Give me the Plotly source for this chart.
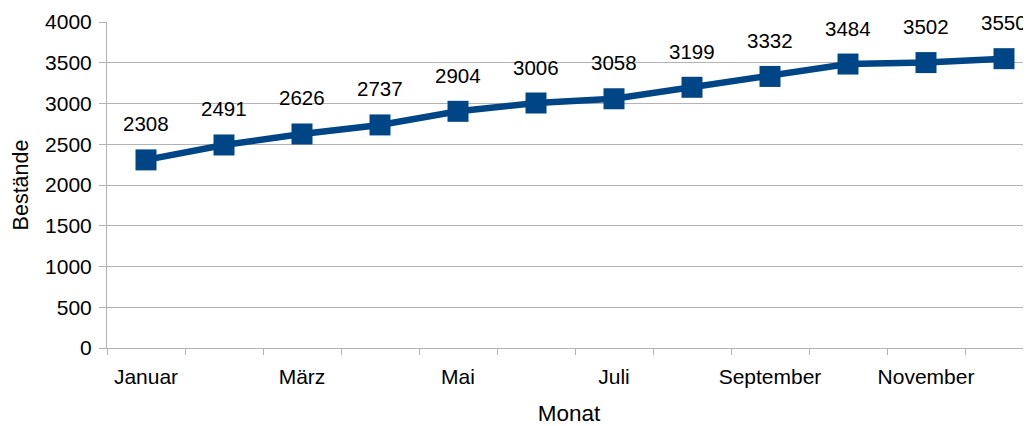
import plotly.graph_objects as go

months = ["Januar", "Februar", "März", "April", "Mai", "Juni", "Juli",
          "August", "September", "Oktober", "November", "Dezember"]
bestaende = [2308, 2491, 2626, 2737, 2904, 3006, 3058, 3199, 3332, 3484, 3502, 3550]

xs = list(range(len(months)))
blue = "#004586"
grid = "#b3b3b3"
font = "Liberation Sans, Arial, sans-serif"

fig = go.Figure()
fig.add_trace(go.Scatter(
    x=xs, y=bestaende, mode="lines+markers",
    line=dict(color=blue, width=6.5),
    marker=dict(symbol="square", size=21, color=blue),
    showlegend=False, hoverinfo="skip",
))
for x, v in zip(xs, bestaende):
    fig.add_annotation(x=x, y=v, text=str(v), showarrow=False, yshift=36,
                       font=dict(family=font, size=20.5, color="#000000"))

# page body adds an 8px offset; figure sized so plot edges land where the reference has them
fig.update_layout(
    width=1023, height=418,
    margin=dict(l=99, r=0, t=14, b=78),
    plot_bgcolor="white", paper_bgcolor="white",
    font=dict(family=font, size=20, color="#000000"),
    xaxis=dict(
        automargin=False,
        range=[-0.5, -0.5 + 924 / 78],
        tickvals=xs[::2], ticktext=months[::2],
        ticks="", showgrid=False, zeroline=False,
        showline=True, linecolor=grid, linewidth=1,
        ticklabelstandoff=10,
        tickfont=dict(size=21),
        minor=dict(tickvals=[i - 0.5 for i in range(len(months) + 1)],
                   ticks="outside", ticklen=6, tickcolor=grid, showgrid=False),
        title=dict(text="Monat", font=dict(size=22.5), standoff=18),
    ),
    yaxis=dict(
        automargin=False,
        range=[0, 4000], dtick=500,
        showgrid=True, gridcolor=grid, gridwidth=1,
        zeroline=False, showline=True, linecolor=grid, linewidth=1,
        ticks="outside", ticklen=7, tickcolor=grid,
        ticklabelstandoff=3,
        tickfont=dict(size=21),
        title=dict(text="Bestände", font=dict(size=21.5), standoff=10),
    ),
)
fig.write_html("out.html")
